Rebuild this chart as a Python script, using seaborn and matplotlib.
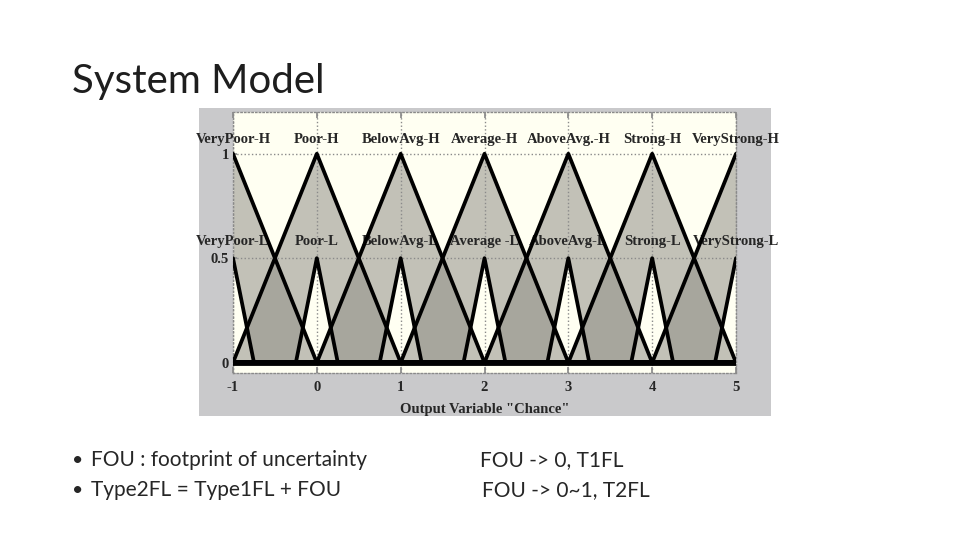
import numpy as np
import pandas as pd
import seaborn as sns
import matplotlib.pyplot as plt
from matplotlib.patches import Rectangle

# membership functions of the output variable "Chance"
centers = [-1, 0, 1, 2, 3, 4, 5]
upper_labels = ['VeryPoor-H', 'Poor-H', 'BelowAvg-H', 'Average-H',
                'AboveAvg.-H', 'Strong-H', 'VeryStrong-H']
lower_labels = ['VeryPoor-L', 'Poor-L', 'BelowAvg-L', 'Average -L',
                'AboveAvg-L', 'Strong-L', 'VeryStrong-L']
upper_height = 1.0
upper_spread = 1.0
lower_height = 0.5
lower_spread = 0.25

x_ticks = [-1, 0, 1, 2, 3, 4, 5]
y_ticks = [0, 0.5, 1]
y_tick_labels = ['0', '0.5', '1']

title = 'System Model'
bullets = ['FOU : footprint of uncertainty', 'Type2FL = Type1FL + FOU']
notes = ['FOU -> 0, T1FL', 'FOU -> 0~1, T2FL']

sns.set_theme(style='white')
plt.rcParams['font.family'] = ['Lato', 'DejaVu Sans']


def tri(x, c, spread, height):
    return height * np.clip(1 - np.abs(x - c) / spread, 0, None)


xs = np.linspace(-1, 5, 2401)
rows = []
for c, hl, ll in zip(centers, upper_labels, lower_labels):
    up = tri(xs, c, upper_spread, upper_height)
    lo = tri(xs, c, lower_spread, lower_height)
    rows.append(pd.DataFrame({'x': xs, 'mu': up, 'curve': hl}))
    rows.append(pd.DataFrame({'x': xs, 'mu': lo, 'curve': ll}))
mf = pd.concat(rows, ignore_index=True)

fig = plt.figure(figsize=(9.6, 5.4), dpi=100)
fig.patch.set_facecolor('white')

# grey backdrop of the pasted figure
fig.add_artist(Rectangle((199 / 960, 1 - 416 / 540), 572 / 960, 308 / 540,
                         transform=fig.transFigure, facecolor='#c9c9cb',
                         edgecolor='none', zorder=0))

ax = fig.add_axes([233 / 960, 1 - 373 / 540, 503 / 960, 261 / 540])
ax.set_facecolor('#fffff2')

# footprint of uncertainty for each set, overlaps get darker
for c in centers:
    up = tri(xs, c, upper_spread, upper_height)
    lo = tri(xs, c, lower_spread, lower_height)
    ax.fill_between(xs, lo, up, color='#939189', alpha=0.56, lw=0, zorder=1)

sns.lineplot(data=mf, x='x', y='mu', units='curve', estimator=None, sort=False,
             color='black', lw=2.7, ax=ax, zorder=3)
ax.axhline(0, color='black', lw=4.2, zorder=3)

serif = dict(family=['Liberation Serif', 'DejaVu Serif'], fontweight='bold')
for c, hl, ll in zip(centers, upper_labels, lower_labels):
    ax.text(c, 1.07, hl, ha='center', va='center', fontsize=10.5,
            clip_on=False, zorder=2.8, **serif)
    ax.text(c, 0.58, ll, ha='center', va='center', fontsize=10.5,
            clip_on=False, zorder=2.8, **serif)

ax.set_xlim(-1, 5)
ax.set_ylim(-0.05, 1.2)
ax.set_xticks(x_ticks)
ax.set_xticklabels([str(t) for t in x_ticks], fontsize=10.5, **serif)
ax.set_yticks(y_ticks)
ax.set_yticklabels(y_tick_labels, fontsize=10.5, **serif)
ax.tick_params(axis='x', direction='in', top=True, bottom=True, length=4,
               color='#8a8a8a', pad=6)
ax.tick_params(axis='y', direction='in', left=True, length=3,
               color='#8a8a8a', pad=3)
ax.set_xlabel('Output Variable "Chance"', fontsize=10.5, labelpad=6, **serif)
ax.set_ylabel('')
ax.set_axisbelow(False)
ax.grid(True, ls=':', color='#8a8a8a', lw=1.0)
for s in ax.spines.values():
    s.set_linestyle(':')
    s.set_color('#8a8a8a')
    s.set_linewidth(1.0)

# slide text
fig.text(72 / 960, 1 - 93 / 540, title, fontsize=29,
         va='baseline', ha='left', color='#1e1e1e')
for i, b in enumerate(bullets):
    y = 1 - (466 + 30 * i) / 540
    fig.text(72 / 960, y, '\u2022', fontsize=14, va='baseline', ha='left')
    fig.text(91 / 960, y, b, fontsize=15, va='baseline', ha='left')
for i, n in enumerate(notes):
    y = 1 - (466 + 30 * i) / 540
    fig.text((480 + 2 * i) / 960, y, n, fontsize=15, va='baseline', ha='left')

fig.savefig('out.png', dpi=100)
